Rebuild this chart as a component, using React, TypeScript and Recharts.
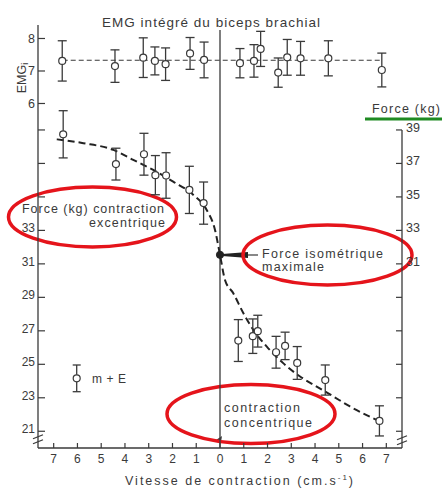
import React from 'react';
import {
  ComposedChart,
  XAxis,
  YAxis,
  Scatter,
  Line,
  ErrorBar,
  ReferenceLine,
  ReferenceDot,
  Customized,
} from 'recharts';

const INK = '#3a3a3a';
const RED = '#e5141b';
const GREEN = '#1f8a22';
const FONT = '"Liberation Sans", Arial, Helvetica, sans-serif';

// Axis ticks
const velocityTicks = [-7, -6, -5, -4, -3, -2, -1, 0, 1, 2, 3, 4, 5, 6, 7];
const forceTicks = [21, 23, 25, 27, 29, 31, 33, 35, 37, 39];
const emgTicks = [6, 7, 8];

// EMG intégré (m ± E)
const emgVelocity = [-6.64, -4.42, -3.23, -2.74, -2.29, -1.26, -0.67, 0.84, 1.43, 1.71, 2.45, 2.83, 3.39, 4.56, 6.81];
const emgMean = [7.31, 7.15, 7.41, 7.31, 7.21, 7.54, 7.34, 7.24, 7.31, 7.68, 6.95, 7.42, 7.39, 7.39, 7.03];
const emgError = [0.62, 0.5, 0.61, 0.43, 0.5, 0.49, 0.55, 0.45, 0.5, 0.54, 0.45, 0.55, 0.52, 0.54, 0.52];

// Mean EMG level (dashed line)
const emgLineVelocity = [-6.62, 6.8];
const emgLineLevel = [7.33, 7.33];

// Force (kg) (m ± E)
const forceVelocity = [-6.6, -4.38, -3.2, -2.72, -2.27, -1.29, -0.69, 0.77, 1.38, 1.59, 2.36, 2.74, 3.25, 4.43, 6.71];
const forceMean = [38.74, 36.96, 37.55, 36.3, 36.28, 35.42, 34.63, 26.42, 26.68, 26.98, 25.72, 26.1, 25.08, 24.06, 21.62];
const forceError = [1.41, 0.95, 1.25, 1.17, 1.36, 1.41, 1.26, 1.25, 1.03, 0.95, 0.95, 0.82, 0.98, 0.9, 0.9];

// Force isométrique maximale
const isometricVelocity = [0];
const isometricForce = [31.54];

// Fitted force–velocity curve (dashed)
const curveVelocity = [-6.87, -5.75, -4.49, -3.65, -2.81, -1.97, -1.12, -0.56, -0.21, 0, 0.21, 0.56, 0.98, 1.4, 1.97, 2.66, 3.37, 4.07, 4.77, 5.47, 6.73];
const curveForce = [38.44, 38.21, 37.81, 37.21, 36.61, 35.91, 35.12, 34.22, 33.03, 31.54, 30.04, 29.25, 28.06, 27.06, 26.06, 25.07, 24.27, 23.67, 23.08, 22.48, 21.59];

const emgData = emgVelocity.map((v, i) => ({ v, emg: emgMean[i], err: emgError[i] }));
const emgLineData = emgLineVelocity.map((v, i) => ({ v, emg: emgLineLevel[i] }));
const forceData = forceVelocity.map((v, i) => ({ v, f: forceMean[i], err: forceError[i] }));
const isoData = isometricVelocity.map((v, i) => ({ v, f: isometricForce[i] }));
const curveData = curveVelocity.map((v, i) => ({ v, f: curveForce[i] }));

const XTick = (p: any) => (
  <g>
    <line x1={p.x} x2={p.x} y1={p.y - 5} y2={p.y} stroke={INK} strokeWidth={1.2} />
    <text x={p.x} y={p.y + 15} textAnchor="middle" fontSize={12} fill={INK} fontFamily={FONT}>
      {Math.abs(p.payload.value)}
    </text>
  </g>
);

const LeftForceTick = (p: any) => (
  <g>
    <line x1={p.x} x2={p.x + 7} y1={p.y} y2={p.y} stroke={INK} strokeWidth={1.2} />
    {p.payload.value <= 33 ? (
      <text x={p.x - 3} y={p.y + 2} textAnchor="end" fontSize={12} fill={INK} fontFamily={FONT}>
        {p.payload.value}
      </text>
    ) : null}
  </g>
);

const EmgTick = (p: any) => (
  <g>
    <line x1={p.x} x2={p.x + 7} y1={p.y} y2={p.y} stroke={INK} strokeWidth={1.2} />
    <text x={p.x - 3} y={p.y + 4.5} textAnchor="end" fontSize={12.5} fill={INK} fontFamily={FONT}>
      {p.payload.value}
    </text>
  </g>
);

const RightForceTick = (p: any) => (
  <g>
    <line x1={p.x - 6} x2={p.x} y1={p.y} y2={p.y} stroke={INK} strokeWidth={1.2} />
    {p.payload.value >= 31 ? (
      <text x={p.x + 4} y={p.y + 2} textAnchor="start" fontSize={12.5} fill={INK} fontFamily={FONT}>
        {p.payload.value}
      </text>
    ) : null}
  </g>
);

const OpenCircle = (p: any) => (
  <circle cx={p.cx} cy={p.cy} r={3.5} fill="#fff" stroke={INK} strokeWidth={1.2} />
);

const FilledCircle = (p: any) => <circle cx={p.cx} cy={p.cy} r={3.6} fill="#222" stroke="#222" />;

const BreakMark = (p: any) => (
  <g stroke={INK} strokeWidth={1.2} fill="none">
    <line x1={p.cx - 5} y1={p.cy - 1} x2={p.cx + 5} y2={p.cy - 5} />
    <line x1={p.cx - 5} y1={p.cy + 4} x2={p.cx + 5} y2={p.cy} />
  </g>
);

const Annotations = () => (
  <g fontFamily={FONT} fill={INK}>
    <text x={211} y={27} textAnchor="middle" fontSize={13.5} textLength={218} lengthAdjust="spacing">
      EMG intégré du biceps brachial
    </text>
    <text
      x={22}
      y={78}
      transform="rotate(-90 22 78)"
      textAnchor="middle"
      fontSize={12.5}
      dominantBaseline="central"
    >
      EMG<tspan fontSize={9} dy={3}>i</tspan>
    </text>
    <text x={125} y={485} fontSize={12.5} textLength={228} lengthAdjust="spacing">
      Vitesse de contraction (cm.s<tspan fontSize={8} dy={-5}>-1</tspan>
      <tspan dy={5}>)</tspan>
    </text>
    {/* Force (kg) header with green underline */}
    <text x={372} y={113} fontSize={12.5} textLength={68} lengthAdjust="spacing">
      Force (kg)
    </text>
    <rect x={365} y={117.5} width={77} height={3} fill={GREEN} />
    {/* legend */}
    <g stroke={INK} strokeWidth={1.3}>
      <line x1={76.7} x2={76.7} y1={365} y2={391.7} />
      <line x1={72.7} x2={80.7} y1={365} y2={365} />
      <line x1={72.7} x2={80.7} y1={391.7} y2={391.7} />
    </g>
    <circle cx={76.7} cy={378.3} r={3.5} fill="#fff" stroke={INK} strokeWidth={1.2} />
    <text x={92} y={383} fontSize={12} textLength={34} lengthAdjust="spacing">
      m + E
    </text>
    {/* arrow to isometric point */}
    <polygon points="222,254 248,252 248,258 222,256" fill="#222" />
    <line x1={248} x2={258} y1={255} y2={255} stroke={INK} strokeWidth={1.2} />
    {/* annotation texts */}
    <text x={22} y={213} fontSize={12.5} textLength={142} lengthAdjust="spacing">
      Force (kg) contraction
    </text>
    <text x={89} y={227} fontSize={12.5} textLength={76} lengthAdjust="spacing">
      excentrique
    </text>
    <text x={262} y={258} fontSize={12.5} textLength={121} lengthAdjust="spacing">
      Force isométrique
    </text>
    <text x={262} y={270.5} fontSize={12.5} textLength={62} lengthAdjust="spacing">
      maximale
    </text>
    <text x={224} y={412} fontSize={12.5} textLength={76} lengthAdjust="spacing">
      contraction
    </text>
    <text x={224} y={426.5} fontSize={12.5} textLength={88} lengthAdjust="spacing">
      concentrique
    </text>
    <polygon points="216,440 222,436 221,442" fill={INK} />
    {/* red ellipses */}
    <g fill="none" stroke={RED} strokeWidth={3.5}>
      <ellipse cx={92.5} cy={217} rx={84} ry={30} />
      <ellipse cx={327.5} cy={255} rx={84.5} ry={30} />
      <ellipse cx={251} cy={414} rx={84} ry={29.5} />
    </g>
  </g>
);

export default function App() {
  return (
    <div style={{ position: 'absolute', left: 0, top: 0, width: 442, height: 495, background: '#fff' }}>
      <ComposedChart width={442} height={495} margin={{ top: 25, right: 0, bottom: 27, left: 0 }}>
        <XAxis
          type="number"
          dataKey="v"
          domain={[-7.66, 7.66]}
          ticks={velocityTicks}
          interval={0}
          allowDataOverflow
          height={20}
          tickSize={0}
          tickMargin={0}
          tickLine={false}
          tick={XTick}
          axisLine={{ stroke: INK, strokeWidth: 1.3 }}
        />
        <YAxis
          yAxisId="f"
          type="number"
          orientation="left"
          domain={[20, 45.27]}
          ticks={forceTicks}
          interval={0}
          allowDataOverflow
          width={38}
          tickSize={0}
          tickMargin={0}
          tickLine={false}
          tick={LeftForceTick}
          axisLine={{ stroke: INK, strokeWidth: 1.3 }}
        />
        <YAxis
          yAxisId="e"
          type="number"
          orientation="left"
          mirror
          domain={[-4.6, 8.415]}
          ticks={emgTicks}
          interval={0}
          allowDataOverflow
          tickSize={0}
          tickMargin={0}
          tickLine={false}
          tick={EmgTick}
          axisLine={false}
        />
        <YAxis
          yAxisId="fr"
          type="number"
          orientation="right"
          domain={[20, 45.27]}
          ticks={forceTicks}
          interval={0}
          allowDataOverflow
          width={40}
          tickSize={0}
          tickMargin={0}
          tickLine={false}
          tick={RightForceTick}
          axisLine={false}
        />
        <ReferenceLine
          yAxisId="e"
          segment={[{ x: 0, y: 8.26 }, { x: 0, y: -4.6 }]}
          stroke={INK}
          strokeWidth={1.3}
          ifOverflow="visible"
        />
        <ReferenceLine
          yAxisId="fr"
          segment={[{ x: 7.66, y: 39 }, { x: 7.66, y: 20 }]}
          stroke={INK}
          strokeWidth={1.3}
          ifOverflow="visible"
        />
        <ReferenceDot yAxisId="f" x={-7.66} y={20.49} r={0} ifOverflow="visible" shape={BreakMark} />
        <ReferenceDot yAxisId="fr" x={7.66} y={20.43} r={0} ifOverflow="visible" shape={BreakMark} />
        <Line
          yAxisId="e"
          data={emgLineData}
          dataKey="emg"
          type="linear"
          stroke={INK}
          strokeWidth={1.2}
          strokeDasharray="5 3"
          dot={false}
          activeDot={false}
          isAnimationActive={false}
        />
        <Line
          yAxisId="f"
          data={curveData}
          dataKey="f"
          type="monotone"
          stroke="#222"
          strokeWidth={2}
          strokeDasharray="7 4"
          dot={false}
          activeDot={false}
          isAnimationActive={false}
        />
        <Scatter yAxisId="e" data={emgData} dataKey="emg" shape={OpenCircle} isAnimationActive={false}>
          <ErrorBar dataKey="err" direction="y" width={4.5} stroke={INK} strokeWidth={1.3} />
        </Scatter>
        <Scatter yAxisId="f" data={forceData} dataKey="f" shape={OpenCircle} isAnimationActive={false}>
          <ErrorBar dataKey="err" direction="y" width={4.5} stroke={INK} strokeWidth={1.3} />
        </Scatter>
        <Scatter yAxisId="f" data={isoData} dataKey="f" shape={FilledCircle} isAnimationActive={false} />
        <Customized component={Annotations} />
      </ComposedChart>
    </div>
  );
}
